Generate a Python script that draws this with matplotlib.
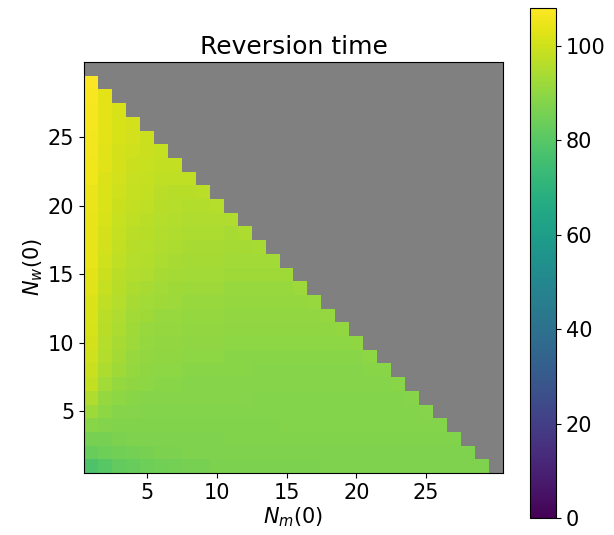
import numpy as np
import matplotlib
matplotlib.use("Agg")
import matplotlib.pyplot as plt

# ---------------- DATA ----------------
# reversion time, one list per N_w(0) row (1..29), N_m(0) runs 1..(30 - N_w)
row_01 = [78, 80, 82, 83, 84, 85, 85.5, 86, 86, 86.5, 86.5, 86.5, 86.5, 86.5, 86.5, 86.5, 86.5, 87, 87, 87,
          87, 87, 87, 87, 87, 87, 87, 87, 87]
row_02 = [83, 84, 85, 85.5, 86, 86.5, 86.5, 87, 87, 87, 87, 87, 87, 87, 87, 87, 87, 87, 87, 87,
          87, 87, 87, 87, 87, 87, 87, 87]
row_03 = [86, 86, 86.5, 87, 87, 87, 87, 87, 87, 87, 87.5, 87.5, 87.5, 87.5, 87.5, 87.5, 87.5, 87.5,
          87.5, 87.5, 87.5, 87.5, 87.5, 87.5, 87.5, 87.5, 87.5]
row_04 = [89, 88, 87.5, 87.5, 87.5, 87.5, 87.5, 87.5, 87.5, 87.5, 87.5, 87.5, 87.5, 87.5, 88, 88, 88, 88,
          88, 88, 88, 88, 88, 88, 88, 88]
row_05 = [92, 89.5, 88.5, 88.5, 88, 88, 88, 88, 88, 88, 88, 88, 88, 88, 88, 88, 88, 88, 88, 88,
          88, 88, 88, 88, 88.5]
row_06 = [95, 91, 89.5, 89, 88.5, 88.5, 88.5, 88.5, 88.5, 88.5, 88.5, 88.5, 88, 88, 88, 88, 88, 88,
          88, 88, 88, 88, 88, 88.5]
row_07 = [98, 93, 91, 90, 89.5, 89, 89, 88.5, 88.5, 88.5, 88.5, 88.5, 88.5, 88.5, 88.5, 88.5,
          88.5, 88.5, 88.5, 88.5, 88.5, 88.5, 89]
row_08 = [99.5, 94.5, 92.5, 91, 90, 89.5, 89.5, 89, 89, 89, 89, 89, 88.5, 88.5, 88.5, 88.5, 88.5, 88.5,
          88.5, 88.5, 89, 89]
row_09 = [100, 95.5, 93.5, 91.5, 90.5, 90, 90, 89.5, 89.5, 89.5, 89, 89, 89, 89, 89, 89, 89, 89, 89,
          89, 89.5]
row_10 = [101, 96, 94, 92, 91, 90.5, 90.5, 90, 90, 90, 89.5, 89.5, 89.5, 89.5, 89.5, 89.5, 89.5,
          89.5, 89.5, 90]
row_11 = [101.5, 96.5, 94.5, 92.5, 91.5, 91, 91, 90.5, 90.5, 90.5, 90, 90, 90, 90, 90, 90, 90, 90, 90.5]
row_12 = [102, 97, 95, 93, 92.5, 91.5, 91.5, 91, 91, 91, 90.5, 90.5, 90.5, 90.5, 90.5, 90.5, 90.5, 91]
row_13 = [102.5, 97.5, 96, 94, 93, 92.5, 92, 91.5, 91.5, 91.5, 91, 91, 91, 91, 91, 91, 91.5]
row_14 = [103, 98.5, 96.5, 94.5, 94, 93, 92.5, 92, 92, 92, 91.5, 91.5, 91.5, 91.5, 91.5, 92]
row_15 = [103.5, 99.5, 97, 95.5, 95, 94, 93.5, 93, 93, 93, 92.5, 92.5, 92.5, 92.5, 92.5]
row_16 = [104, 100, 97.5, 96, 95.5, 94.5, 94, 93.5, 93.5, 93.5, 93, 93, 93, 93]
row_17 = [104, 100.5, 98, 96.5, 96, 95, 94.5, 94, 94, 94, 93.5, 93.5, 94]
row_18 = [104.5, 101, 98.5, 97, 96.5, 95.5, 95, 94.5, 94.5, 94.5, 94, 94.5]
row_19 = [104.5, 101.5, 99, 97.5, 97, 96, 95.5, 95, 95, 95, 95]
row_20 = [105, 102, 99.5, 98, 97.5, 96.5, 96, 95.5, 95.5, 96]
row_21 = [105, 102, 100, 98.5, 98, 97, 96.5, 96.5, 97]
row_22 = [105.5, 102.5, 100.5, 99, 98.5, 97.5, 97.5, 97.5]
row_23 = [105.5, 103, 101, 99.5, 99, 98, 98]
row_24 = [106, 103, 101, 100, 99.5, 98.5]
row_25 = [106, 103.5, 101.5, 100.5, 99.5]
row_26 = [106.5, 103.5, 101.5, 100.5]
row_27 = [106.5, 103.5, 101.5]
row_28 = [107, 103.5]
row_29 = [107.5]

rows = [row_01, row_02, row_03, row_04, row_05, row_06, row_07, row_08, row_09, row_10,
        row_11, row_12, row_13, row_14, row_15, row_16, row_17, row_18, row_19, row_20,
        row_21, row_22, row_23, row_24, row_25, row_26, row_27, row_28, row_29]

N = 30
VMAX = 108

# ---------------- GRID ----------------
Z = np.full((N, N), np.nan)
for i, r in enumerate(rows):
    Z[i, :len(r)] = r
Z = np.ma.masked_invalid(Z)

cmap = plt.get_cmap("viridis").copy()
cmap.set_bad("gray")

# ---------------- PLOT ----------------
fig = plt.figure(figsize=(6.14, 5.35), dpi=100)
ax = fig.add_axes([84/614, 62/535, 419/614, 411/535])
im = ax.imshow(Z, origin="lower", cmap=cmap, vmin=0, vmax=VMAX,
               extent=[0.5, N + 0.5, 0.5, N + 0.5], aspect="auto", interpolation="nearest")

ax.set_xticks([5, 10, 15, 20, 25])
ax.set_yticks([5, 10, 15, 20, 25])
ax.tick_params(labelsize=15)
ax.set_xlabel(r"$N_m(0)$", fontsize=15, labelpad=2)
ax.set_ylabel(r"$N_w(0)$", fontsize=15, labelpad=2)
ax.set_title("Reversion time", fontsize=18)

cax = fig.add_axes([530/614, 17/535, 26/614, 510/535])
cb = fig.colorbar(im, cax=cax)
cb.set_ticks([0, 20, 40, 60, 80, 100])
cb.ax.tick_params(labelsize=15)

fig.savefig("out.png", dpi=100)
